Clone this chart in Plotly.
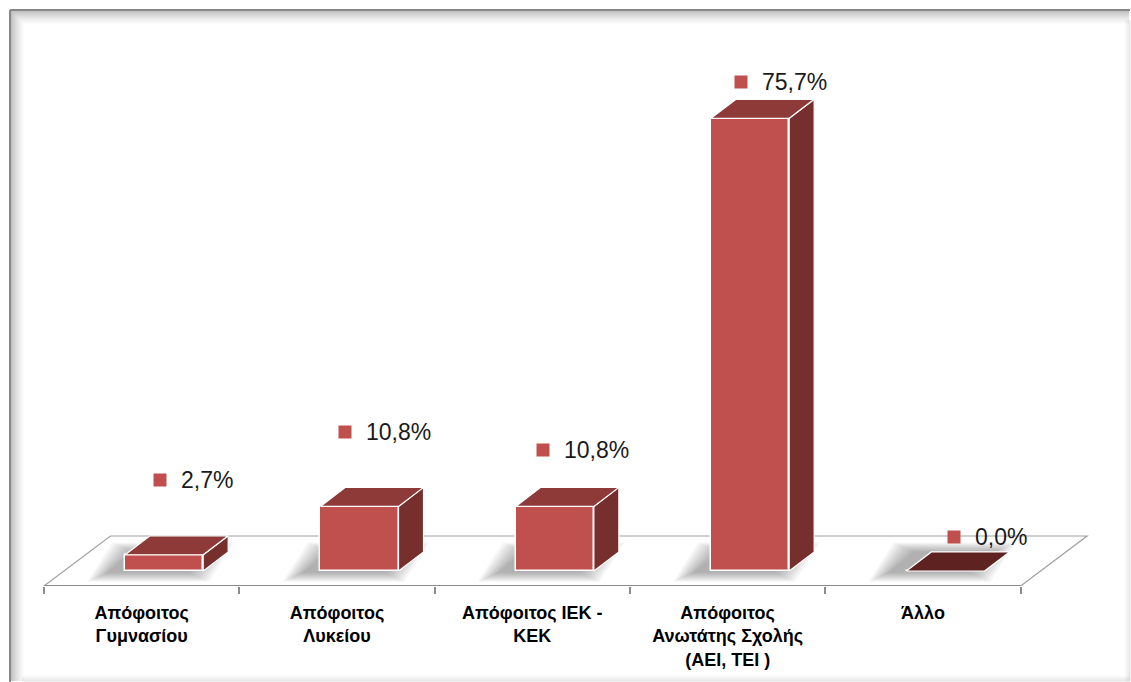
import plotly.graph_objects as go

# Education level of respondents (%)
categories = [
    "Απόφοιτος<br>Γυμνασίου",
    "Απόφοιτος<br>Λυκείου",
    "Απόφοιτος ΙΕΚ -<br>ΚΕΚ",
    "Απόφοιτος<br>Ανωτάτης Σχολής<br>(ΑΕΙ, ΤΕΙ )",
    "Άλλο",
]
values = [2.7, 10.8, 10.8, 75.7, 0.0]
value_labels = ["2,7%", "10,8%", "10,8%", "75,7%", "0,0%"]

# label placement relative to the top of each bar's front face (pixels)
label_dx = [-4, -14, -12, -9, 9]
label_dy = [75, 74, 56, 36, 34]

W, H = 1131, 682
M_L, M_R, M_T, M_B = 44, 42, 20, 96
X_RANGE = [-0.5, 4.85]
Y_RANGE = [-2.51, 92.14]
PW = W - M_L - M_R
PH = H - M_T - M_B
UX = PW / (X_RANGE[1] - X_RANGE[0])   # pixels per x unit
UY = PH / (Y_RANGE[1] - Y_RANGE[0])   # pixels per percent

FRONT = "#C0504D"
TOP = "#8E3A38"
TOP_FLAT = "#5E2220"
SIDE = "#772F2D"

BAR_W = 0.40        # front face width (x units)
BAR_OFF = 0.115     # front face shift from category centre
DX = 0.128          # depth shift in x (units)
DY = 3.18           # depth shift in y (percent)


def px_to_paper_x(px):
    return (px - M_L) / PW


def px_to_paper_y(py):
    return (H - M_B - py) / PH


fig = go.Figure()

xs = [i + BAR_OFF for i in range(len(values))]

shapes = []

# floor
floor_back_y = 5.85
floor_dx = 0.34
shapes.append(dict(type="path", xref="x", yref="y", layer="below",
                   path=f"M -0.5 {Y_RANGE[0]} L {-0.5 + floor_dx} {floor_back_y} "
                        f"L {4.5 + floor_dx} {floor_back_y} L 4.5 {Y_RANGE[0]} Z",
                   line=dict(color="#A0A0A0", width=1.2), fillcolor="rgba(0,0,0,0)"))
shapes.append(dict(type="line", xref="x", yref="y", layer="below",
                   x0=-0.5, x1=4.5, y0=Y_RANGE[0], y1=Y_RANGE[0],
                   line=dict(color="#8C8C8C", width=2.2)))

# soft blurred shadow of each block's footprint, cast to the left
for x in xs:
    xl, xr = x - BAR_W / 2, x + BAR_W / 2
    sx = -16 / UX
    for k in range(10):
        gx = (2 + 2.2 * k) / UX
        gy = (0.5 + 1.0 * k) / UY
        shapes.append(dict(type="path", xref="x", yref="y", layer="below",
                           path=f"M {xl + sx - gx} {-gy - 0.2} L {xr + sx + gx} {-gy - 0.2} "
                                f"L {xr + DX + sx + gx} {DY + gy} L {xl + DX + sx - gx} {DY + gy} Z",
                           line=dict(width=0), fillcolor="rgba(40,40,40,0.045)"))

# front faces
fig.add_trace(go.Bar(
    x=xs, y=values, width=BAR_W,
    marker=dict(color=FRONT, line=dict(color="white", width=1.5)),
    hoverinfo="skip", showlegend=False,
))

# side and top faces of each block
for x, v in zip(xs, values):
    xl, xr = x - BAR_W / 2, x + BAR_W / 2
    fig.add_trace(go.Scatter(
        x=[xr, xr + DX, xr + DX, xr, xr],
        y=[0, DY, v + DY, v, 0],
        fill="toself", fillcolor=SIDE, mode="lines",
        line=dict(color="white", width=1.2),
        hoverinfo="skip", showlegend=False,
    ))
    fig.add_trace(go.Scatter(
        x=[xl, xr, xr + DX, xl + DX, xl],
        y=[v, v, v + DY, v + DY, v],
        fill="toself", fillcolor=TOP if v > 0 else TOP_FLAT, mode="lines",
        line=dict(color="white", width=1.2),
        hoverinfo="skip", showlegend=False,
    ))

# outer frame: dark top/left edge with an inset shadow, light right/bottom edge
fx0, fx1, fy0, fy1 = 10, 1130, 10, 681


def pline(x0, y0, x1, y1, color, width=1):
    return dict(type="line", xref="paper", yref="paper",
                x0=px_to_paper_x(x0), x1=px_to_paper_x(x1),
                y0=px_to_paper_y(y0), y1=px_to_paper_y(y1),
                line=dict(color=color, width=width))


for k in range(1, 16):
    a = 0.30 * (1 - k / 16) ** 1.6
    c = f"rgba(0,0,0,{a:.3f})"
    shapes.append(pline(fx0 + k, fy0 + k, fx1 - 1, fy0 + k, c))
    shapes.append(pline(fx0 + k, fy0 + k, fx0 + k, fy1, c))
for k in range(0, 6):
    a = 0.10 * (1 - k / 6)
    c = f"rgba(0,0,0,{a:.3f})"
    shapes.append(pline(fx0 + 12, fy1 - k, fx1, fy1 - k, c))
    shapes.append(pline(fx1 - k, fy0 + 10, fx1 - k, fy1, c))
shapes.append(pline(fx0, fy0, fx1, fy0, "#888888", 2))
shapes.append(pline(fx0, fy0, fx0, fy1 + 2, "#888888", 2))

annotations = []
for x, v, t, dx, dy in zip(xs, values, value_labels, label_dx, label_dy):
    annotations.append(dict(x=x, y=v, xref="x", yref="y", text=" ",
                            showarrow=False, width=12, height=12, borderpad=0,
                            bgcolor=FRONT, xshift=dx, yshift=dy,
                            xanchor="center", yanchor="middle"))
    annotations.append(dict(x=x, y=v, xref="x", yref="y", text=t,
                            showarrow=False, xshift=dx + 19, yshift=dy,
                            xanchor="left", yanchor="middle",
                            font=dict(family="Liberation Sans", size=23, color="#1A1A1A")))

fig.update_layout(
    width=W, height=H,
    margin=dict(l=M_L, r=M_R, t=M_T, b=M_B, pad=0),
    paper_bgcolor="white", plot_bgcolor="white",
    shapes=shapes, annotations=annotations,
    showlegend=False, bargap=0,
    xaxis=dict(
        range=X_RANGE, showgrid=False, zeroline=False, showline=False,
        tickmode="array", tickvals=list(range(len(categories))), ticktext=categories,
        ticks="", ticklabelstandoff=14,
        tickfont=dict(family="Liberation Sans", size=18, color="black", weight="bold"),
        minor=dict(tickmode="array", tickvals=[i - 0.5 for i in range(len(categories) + 1)],
                   ticks="outside", ticklen=7, tickcolor="#8C8C8C", tickwidth=1.5,
                   showgrid=False),
        fixedrange=True,
    ),
    yaxis=dict(range=Y_RANGE, visible=False, fixedrange=True),
)

fig.write_html("out.html")
